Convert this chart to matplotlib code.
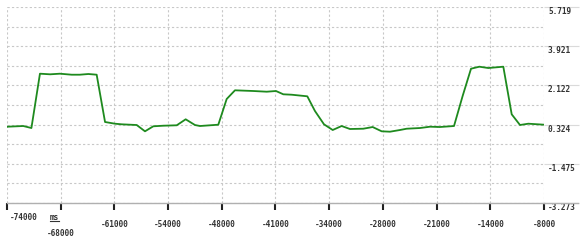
import numpy as np
import matplotlib.pyplot as plt
from matplotlib.lines import Line2D
import matplotlib.transforms as mtransforms

# time (ms) and value of the trace
t_ms = [-74000, -72000, -71000, -69950, -68700, -67500, -66050, -65050, -64000,
        -62980, -61950, -60730, -59900, -58060, -57040, -56020, -54790, -53140,
        -52040, -50900, -50280, -48030, -47000, -45980, -43730, -42080, -40940,
        -40040, -39010, -37090, -36150, -35040, -33970, -32870, -31850, -30210,
        -29060, -27950, -26930, -25700, -24880, -23240, -22010, -20790, -19060,
        -18000, -16970, -15950, -14850, -13000, -11970, -10950, -9930, -8000]
vals = [0.227, 0.259, 0.167, 2.659, 2.631, 2.659, 2.613, 2.613, 2.645,
        2.613, 0.443, 0.365, 0.337, 0.305, 0.016, 0.246, 0.273, 0.292,
        0.567, 0.305, 0.259, 0.319, 1.498, 1.897, 1.865, 1.833, 1.865,
        1.714, 1.695, 1.622, 0.947, 0.337, 0.076, 0.259, 0.122, 0.135,
        0.213, 0.016, -0.002, 0.076, 0.135, 0.167, 0.227, 0.213, 0.259,
        1.636, 2.888, 2.980, 2.920, 2.980, 0.796, 0.305, 0.365, 0.319]

x_labels = ['-74000', '-68000', '-61000', '-54000', '-48000', '-41000',
            '-34000', '-28000', '-21000', '-14000', '-8000']
y_labels = ['-3.273', '-1.475', '0.324', '2.122', '3.921', '5.719']

xmin, xmax = -74000, -8000
ymin, ymax = -3.273, 5.719

fig = plt.figure(figsize=(5.85, 2.45), dpi=100)
ax = fig.add_axes([7/585, 42/245, 537/585, 196/245])

ax.plot(t_ms, vals, color='#1e8a1e', lw=1.3)

ax.set_xlim(xmin, xmax)
ax.set_ylim(ymin, ymax)

xt = np.linspace(xmin, xmax, len(x_labels))
yt = np.linspace(ymin, ymax, len(y_labels))
ymin_t = (yt[:-1] + yt[1:]) / 2

ax.set_xticks(xt)
ax.set_xticklabels([])
ax.set_yticks(yt)
ax.set_yticks(ymin_t, minor=True)
ax.set_yticklabels([])

gstyle = dict(color='#c8c8c8', linestyle=(0, (2, 2)), linewidth=0.8)
ax.grid(True, which='both', **gstyle)
ax.grid(False, axis='x', which='minor')

for s in ['top', 'left', 'right']:
    ax.spines[s].set_visible(False)
ax.spines['bottom'].set_color('#b0b0b0')
ax.spines['bottom'].set_linewidth(1.0)

ax.tick_params(axis='x', direction='out', length=5, width=1.5, color='#222222')
ax.tick_params(axis='y', which='major', left=False, right=True, direction='out',
               length=25, width=0.8, color='#dadada')
ax.tick_params(axis='y', which='minor', left=False, right=False)

# bottom line continues under the right labels
fig.add_artist(Line2D([544/585, 578/585], [42/245, 42/245], color='#b0b0b0', lw=1.0))

font = dict(family='DejaVu Sans Mono', fontsize=5.6, color='#333333', fontweight='bold')

# y labels on the right, just below their lines
trans_y = mtransforms.blended_transform_factory(fig.transFigure, ax.transData)
for v, lab in zip(yt, y_labels):
    ax.text(548/585, v, lab, transform=trans_y, ha='left', va='top', **font)

# x labels
for i, lab in enumerate(x_labels):
    px = 7 + i * 53.7
    if i == 0:
        fig.text(10/585, 1 - 213/245, lab, ha='left', va='top', **font)
    elif i == 1:
        fig.text(px/585, 1 - 229/245, lab, ha='center', va='top', **font)
    else:
        fig.text(px/585, 1 - 220/245, lab, ha='center', va='top', **font)

fig.text(50/585, 1 - 213/245, 'ms', ha='left', va='top', **font)
fig.add_artist(Line2D([50/585, 59/585], [1 - 220.5/245, 1 - 220.5/245], color='#333333', lw=0.8))

fig.savefig('out.png', dpi=100)
